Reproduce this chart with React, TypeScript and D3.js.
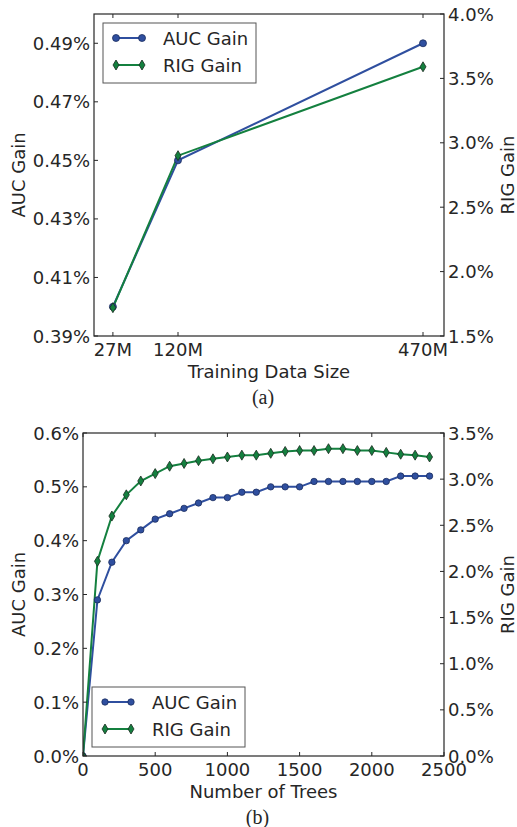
import React from 'react';
import * as d3 from 'd3';

// panel (a): training data size, in millions of examples
const sizes = [27, 120, 470];
const sizeTicks = [27, 120, 470];
const sizeTickLabels = ['27M', '120M', '470M'];
const aucBySize = [0.40, 0.45, 0.49];
const rigBySize = [1.72, 2.90, 3.59];
const aucTicksA = [0.39, 0.41, 0.43, 0.45, 0.47, 0.49];
const rigTicksA = [1.5, 2.0, 2.5, 3.0, 3.5, 4.0];

// panel (b): number of trees
const trees = [0, 100, 200, 300, 400, 500, 600, 700, 800, 900, 1000, 1100, 1200,
  1300, 1400, 1500, 1600, 1700, 1800, 1900, 2000, 2100, 2200, 2300, 2400];
const aucByTrees = [0, 0.29, 0.36, 0.40, 0.42, 0.44, 0.45, 0.46, 0.47, 0.48, 0.48, 0.49, 0.49,
  0.50, 0.50, 0.50, 0.51, 0.51, 0.51, 0.51, 0.51, 0.51, 0.52, 0.52, 0.52];
const rigByTrees = [0, 2.11, 2.60, 2.83, 2.98, 3.06, 3.14, 3.17, 3.20, 3.22, 3.24, 3.26, 3.26,
  3.28, 3.30, 3.31, 3.31, 3.33, 3.33, 3.31, 3.31, 3.29, 3.27, 3.26, 3.24];
const treeTicks = [0, 500, 1000, 1500, 2000, 2500];
const aucTicksB = [0.0, 0.1, 0.2, 0.3, 0.4, 0.5, 0.6];
const rigTicksB = [0.0, 0.5, 1.0, 1.5, 2.0, 2.5, 3.0, 3.5];

const BLUE = '#2f4f9f';
const GREEN = '#14803f';
const EDGE = '#1b2a1f';
const INK = '#262626';
const FONT = 'DejaVu Sans';

const diamond = 'M0,-5L3,0L0,5L-3,0Z';

function Marker({ kind, x, y, r }) {
  if (kind === 'circle') {
    return <circle cx={x} cy={y} r={r} fill={BLUE} stroke="#1c2d5e" strokeWidth={0.8} />;
  }
  return <path d={diamond} transform={`translate(${x},${y})`} fill={GREEN} stroke={EDGE} strokeWidth={0.8} />;
}

function Panel(props) {
  const { id, left, right, top, bottom, xDomain, xs, auc, rig, aucDomain, rigDomain,
    xTicks, xTickLabels, aucTicks, rigTicks, aucFmt, rigFmt, xLabel, caption,
    legendX, legendY, markR } = props;

  const x = d3.scaleLinear().domain(xDomain).range([left, right]);
  const yL = d3.scaleLinear().domain(aucDomain).range([bottom, top]);
  const yR = d3.scaleLinear().domain(rigDomain).range([bottom, top]);

  const aucLine = d3.line<number>().x((d, i) => x(xs[i])).y(d => yL(d));
  const rigLine = d3.line<number>().x((d, i) => x(xs[i])).y(d => yR(d));

  const midY = (top + bottom) / 2;
  const midX = (left + right) / 2;
  const tick = 4;

  return (
    <g>
      <defs>
        <clipPath id={'clip-' + id}>
          <rect x={left} y={top} width={right - left} height={bottom - top} />
        </clipPath>
      </defs>

      <g clipPath={`url(#clip-${id})`}>
        <path d={aucLine(auc) || ''} fill="none" stroke={BLUE} strokeWidth={2} />
        <path d={rigLine(rig) || ''} fill="none" stroke={GREEN} strokeWidth={2} />
        {auc.map((d, i) => <Marker key={'a' + i} kind="circle" x={x(xs[i])} y={yL(d)} r={markR} />)}
        {rig.map((d, i) => <Marker key={'r' + i} kind="diamond" x={x(xs[i])} y={yR(d)} r={markR} />)}
      </g>

      <rect x={left} y={top} width={right - left} height={bottom - top} fill="none" stroke={INK} strokeWidth={1.2} />

      {/* x ticks, bottom and top, pointing in */}
      {xTicks.map((t, i) => (
        <g key={'x' + i}>
          <line x1={x(t)} x2={x(t)} y1={bottom} y2={bottom - tick} stroke={INK} />
          <line x1={x(t)} x2={x(t)} y1={top} y2={top + tick} stroke={INK} />
          <text x={x(t)} y={bottom + 13} textAnchor="middle" dominantBaseline="central"
            fontFamily={FONT} fontSize={18} fill={INK}>{xTickLabels[i]}</text>
        </g>
      ))}

      {aucTicks.map((t, i) => (
        <g key={'l' + i}>
          <line x1={left} x2={left + tick} y1={yL(t)} y2={yL(t)} stroke={INK} />
          <text x={left - 4} y={yL(t)} textAnchor="end" dominantBaseline="central"
            fontFamily={FONT} fontSize={18} fill={INK}>{aucFmt(t)}</text>
        </g>
      ))}

      {rigTicks.map((t, i) => (
        <g key={'r' + i}>
          <line x1={right} x2={right - tick} y1={yR(t)} y2={yR(t)} stroke={INK} />
          <text x={right + 4} y={yR(t)} dominantBaseline="central"
            fontFamily={FONT} fontSize={18} fill={INK}>{rigFmt(t)}</text>
        </g>
      ))}

      <text transform={`translate(18,${midY}) rotate(-90)`} textAnchor="middle" dominantBaseline="central"
        fontFamily={FONT} fontSize={18} fill={INK}>AUC Gain</text>
      <text transform={`translate(507,${midY}) rotate(-90)`} textAnchor="middle" dominantBaseline="central"
        fontFamily={FONT} fontSize={18} fill={INK}>RIG Gain</text>
      <text x={midX} y={bottom + 35} textAnchor="middle" dominantBaseline="central"
        fontFamily={FONT} fontSize={18} fill={INK}>{xLabel}</text>
      <text x={midX - 6} y={bottom + 61} textAnchor="middle" dominantBaseline="central"
        fontFamily="Liberation Serif" fontSize={20} fill={INK}>{caption}</text>

      {/* legend */}
      <g transform={`translate(${legendX},${legendY})`}>
        <rect x={0} y={0} width={153} height={60} fill="white" stroke="#555" strokeWidth={1} />
        <line x1={13} x2={39} y1={15} y2={15} stroke={BLUE} strokeWidth={2} />
        <Marker kind="circle" x={13} y={15} r={markR} />
        <Marker kind="circle" x={39} y={15} r={markR} />
        <text x={60} y={15} dominantBaseline="central" fontFamily={FONT} fontSize={18} fill={INK}>AUC Gain</text>
        <line x1={13} x2={39} y1={42} y2={42} stroke={GREEN} strokeWidth={2} />
        <Marker kind="diamond" x={13} y={42} r={markR} />
        <Marker kind="diamond" x={39} y={42} r={markR} />
        <text x={60} y={42} dominantBaseline="central" fontFamily={FONT} fontSize={18} fill={INK}>RIG Gain</text>
      </g>
    </g>
  );
}

export default function App() {
  const pct2 = (v: number) => v.toFixed(2) + '%';
  const pct1 = (v: number) => v.toFixed(1) + '%';
  return (
    <svg width={517} height={827} style={{ position: 'absolute', left: 0, top: 0, background: 'white' }}>
      <rect width={517} height={827} fill="white" />
      <Panel id="a" left={94} right={444} top={14} bottom={336}
        xDomain={[0, 500]} xs={sizes} auc={aucBySize} rig={rigBySize}
        aucDomain={[0.39, 0.50]} rigDomain={[1.5, 4.0]}
        xTicks={sizeTicks} xTickLabels={sizeTickLabels}
        aucTicks={aucTicksA} rigTicks={rigTicksA} aucFmt={pct2} rigFmt={pct1}
        xLabel="Training Data Size" caption="(a)" legendX={103} legendY={23} markR={3.5} />
      <Panel id="b" left={83} right={444} top={433} bottom={756}
        xDomain={[0, 2500]} xs={trees} auc={aucByTrees} rig={rigByTrees}
        aucDomain={[0, 0.6]} rigDomain={[0, 3.5]}
        xTicks={treeTicks} xTickLabels={treeTicks.map(String)}
        aucTicks={aucTicksB} rigTicks={rigTicksB} aucFmt={pct1} rigFmt={pct1}
        xLabel="Number of Trees" caption="(b)" legendX={92} legendY={687} markR={3.2} />
    </svg>
  );
}
